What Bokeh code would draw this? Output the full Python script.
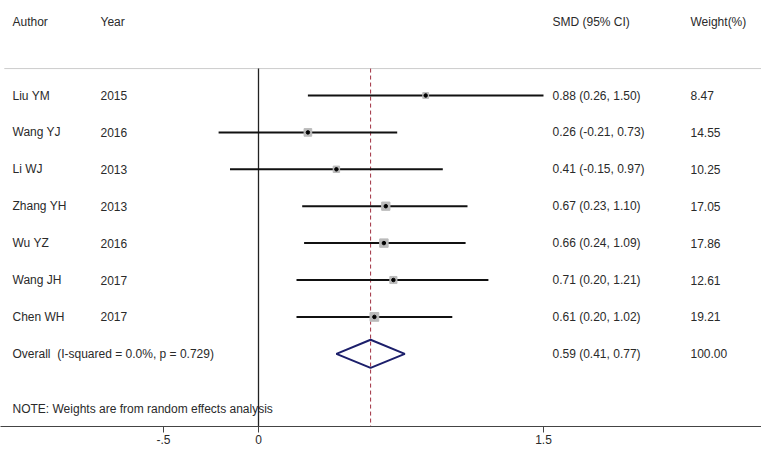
import numpy as np
from bokeh.plotting import figure
from bokeh.models import Range1d, FixedTicker, ColumnDataSource, LinearAxis
from bokeh.core.properties import value
from bokeh.embed import file_html
from bokeh.resources import INLINE

# ---- data ----
authors = ["Liu YM", "Wang YJ", "Li WJ", "Zhang YH", "Wu YZ", "Wang JH", "Chen WH"]
years = ["2015", "2016", "2013", "2013", "2016", "2017", "2017"]
smd = [0.88, 0.26, 0.41, 0.67, 0.66, 0.71, 0.61]
lower = [0.26, -0.21, -0.15, 0.23, 0.24, 0.20, 0.20]
upper = [1.50, 0.73, 0.97, 1.10, 1.09, 1.21, 1.02]
weights = [8.47, 14.55, 10.25, 17.05, 17.86, 12.61, 19.21]
overall_smd = 0.59
overall_lo = 0.41
overall_hi = 0.77
overall_weight = 100.00
i_squared = 0.0
p_het = 0.729
x_ticks = [-0.5, 0, 1.5]
tick_labels = {-0.5: "-.5", 0: "0", 1.5: "1.5"}

FONT = "Liberation Sans"
TXT = "#2a2a2a"
FS = "12px"

rows = list(range(1, len(authors) + 1))
overall_row = len(authors) + 1
header_row = -1.0
rule_row = 0.27
note_row = 9.5

p = figure(width=761, height=446, output_backend="svg", toolbar_location=None,
           x_range=Range1d(-1.3579, 2.6474), y_range=Range1d(9.97, -1.5745),
           min_border_left=0, min_border_right=0, min_border_top=0, min_border_bottom=20)
p.outline_line_color = None
p.xgrid.visible = False
p.ygrid.visible = False
p.xaxis.visible = False
p.yaxis.visible = False
p.background_fill_color = "white"
p.border_fill_color = "white"

ax = LinearAxis(ticker=FixedTicker(ticks=x_ticks), major_label_overrides=tick_labels)
ax.axis_line_color = "#444444"
ax.axis_line_width = 1
ax.major_tick_out = 6
ax.major_tick_in = 0
ax.major_tick_line_color = "#444444"
ax.minor_tick_line_color = None
ax.major_label_text_font = FONT
ax.major_label_text_font_size = FS
ax.major_label_text_color = TXT
ax.major_label_standoff = 2
p.add_layout(ax, "below")

x0 = p.x_range.start
x1 = p.x_range.end
# top rule
p.segment(x0=[x0 + 0.02], x1=[x1], y0=[rule_row], y1=[rule_row], line_color="#cccccc", line_width=1)
# no-effect line
p.segment(x0=[0], x1=[0], y0=[rule_row], y1=[p.y_range.start], line_color="#222222", line_width=1.3)
# overall dashed line
p.segment(x0=[overall_smd], x1=[overall_smd], y0=[rule_row], y1=[p.y_range.start],
          line_color="#a03040", line_width=1, line_dash="4 3")

src = ColumnDataSource(dict(
    row=rows, author=authors, year=years, smd=smd, lo=lower, hi=upper, w=weights,
    size=[2.0 * np.sqrt(w) for w in weights],
    ci=[f"{m:.2f} ({l:.2f}, {h:.2f})" for m, l, h in zip(smd, lower, upper)],
    wt=[f"{w:.2f}" for w in weights],
))

p.segment(x0="lo", x1="hi", y0="row", y1="row", source=src, line_color="#111111", line_width=2)
p.scatter(x="smd", y="row", size="size", marker="square", source=src,
          fill_color="#bbbbbb", line_color="#bbbbbb")
p.scatter(x="smd", y="row", size=3.5, marker="circle", source=src,
          fill_color="black", line_color="black")

# diamond
h = 0.38
p.patch(x=[overall_lo, overall_smd, overall_hi, overall_smd, overall_lo],
        y=[overall_row, overall_row - h, overall_row, overall_row + h, overall_row],
        fill_color=None, line_color="#1c1f6b", line_width=2)

x_author = (12 - 258) / 190
x_year = (100 - 258) / 190
x_ci = (552 - 258) / 190
x_w = (690 - 258) / 190

def txt(x, y, t):
    p.text(x=x, y=y, text=t, text_font=value(FONT), text_font_size=FS,
           text_color=TXT, text_baseline="middle")

txt([x_author], [header_row], ["Author"])
txt([x_year], [header_row], ["Year"])
txt([x_ci], [header_row], ["SMD (95% CI)"])
txt([x_w], [header_row], ["Weight(%)"])

for col, xpos in (("author", x_author), ("year", x_year), ("ci", x_ci), ("wt", x_w)):
    p.text(x=xpos, y="row", text=col, source=src, text_font=value(FONT), text_font_size=FS,
           text_color=TXT, text_baseline="middle")

txt([x_author], [overall_row], [f"Overall\u00a0 (I-squared = {i_squared:.1f}%, p = {p_het:.3f})"])
txt([x_ci], [overall_row], [f"{overall_smd:.2f} ({overall_lo:.2f}, {overall_hi:.2f})"])
txt([x_w], [overall_row], [f"{overall_weight:.2f}"])
txt([x_author], [note_row], ["NOTE: Weights are from random effects analysis"])

open("out.html", "w").write(file_html(p, INLINE))
